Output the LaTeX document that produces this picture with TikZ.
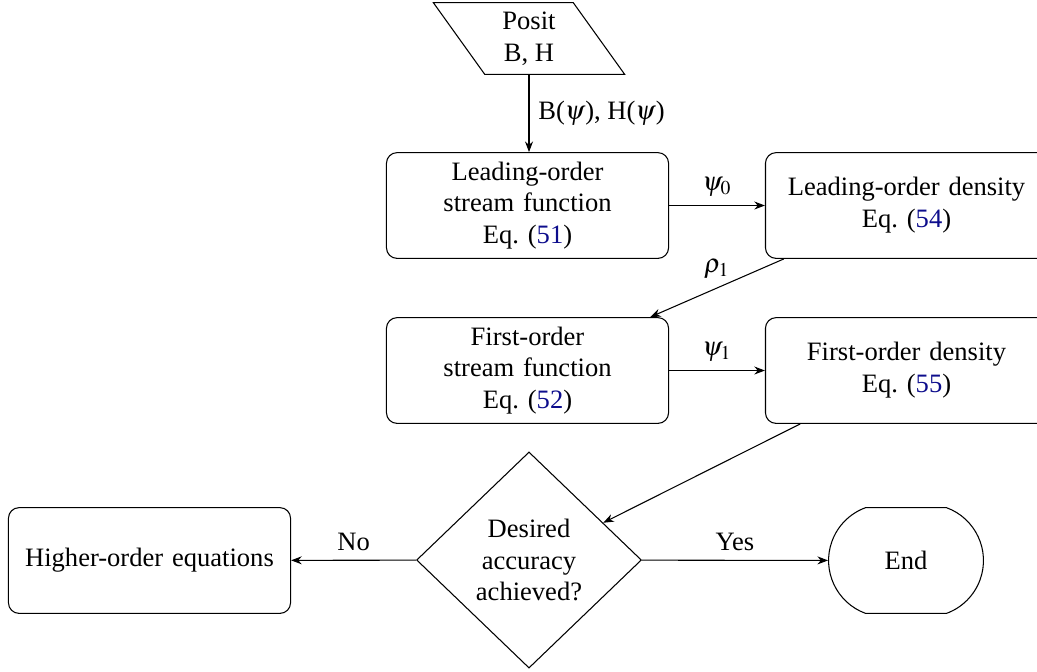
\documentclass[tikz,border=0pt]{standalone}
\usepackage{mathptmx}
\usepackage[no-math]{fontspec}
\setmainfont{Liberation Serif}
\usetikzlibrary{shapes.geometric,shapes.misc,arrows.meta}
\definecolor{eqblue}{rgb}{0.05,0.05,0.55}
\newcommand{\eqlink}[1]{Eq.~(\textcolor{eqblue}{#1})}
\tikzset{
  box/.style={draw, rounded corners=4pt, text width=3.5cm, align=center, minimum height=1.4cm},
  io/.style={draw, trapezium, trapezium left angle=120, trapezium right angle=60, trapezium stretches=true, minimum width=72.3pt, minimum height=27pt, align=center},
  decision/.style={draw, diamond, inner sep=0pt, minimum width=84.7pt, minimum height=81.4pt, align=center},
  term/.style={draw, rounded rectangle, rounded rectangle arc length=140, minimum width=65pt, minimum height=1.4cm},
  arr/.style={-{Stealth[length=4pt,width=3pt]}, line width=0.4pt}
}
\begin{document}
\begin{tikzpicture}[x=0.37665pt, y=-0.37665pt, font=\fontsize{10}{12}\selectfont]
\useasboundingbox (0,0) rectangle (1037,671);
\node[io] (posit) at (529,38.5) {Posit\\B, H};
\node[box] (lsf) at (527.5,205.5) {Leading-order\\stream function\\\eqlink{51}};
\node[box] (lden) at (906.5,205.5) {Leading-order density\\\eqlink{54}};
\node[box] (fsf) at (527.5,370.5) {First-order\\stream function\\\eqlink{52}};
\node[box] (fden) at (906.5,370.5) {First-order density\\\eqlink{55}};
\node[decision] (dec) at (529,560) {Desired\\accuracy\\achieved?};
\node[box] (hoe) at (149.5,560.5) {Higher-order equations};
\node[term] (endn) at (906,560.5) {End};
\draw[arr] (posit.south) -- (posit.south |- lsf.north) node[midway, right] {B($\psi$), H($\psi$)};
\draw[arr] (lsf) -- (lden) node[midway, above] {$\psi_0$};
\draw[arr] (lden) -- (fsf) node[midway, above] {$\rho_1$};
\draw[arr] (fsf) -- (fden) node[midway, above] {$\psi_1$};
\draw[arr] (fden) -- (dec);
\draw[arr] (dec) -- (hoe) node[midway, above] {No};
\draw[arr] (dec) -- (endn) node[midway, above] {Yes};
\end{tikzpicture}
\end{document}
